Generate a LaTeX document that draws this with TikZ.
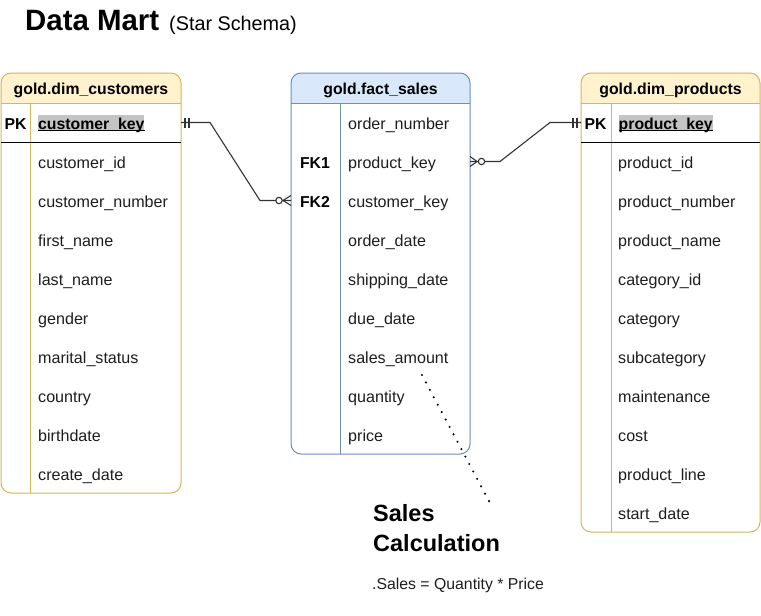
\documentclass[tikz,border=0pt]{standalone}
\usepackage{fontspec}
\setmainfont{Liberation Sans}
\definecolor{ybord}{HTML}{D6B656}
\definecolor{yfill}{HTML}{FFF2CC}
\definecolor{bbord}{HTML}{6C8EBF}
\definecolor{bfill}{HTML}{DAE8FC}
\definecolor{hl}{HTML}{C4C4C4}
\definecolor{txt}{HTML}{1E1E1E}
\definecolor{lnc}{HTML}{333333}
\tikzset{
  tbl/.style n args={2}{draw=#1, fill=white, line width=1pt, rounded corners=10pt,
    inner sep=0pt, outer sep=0pt, anchor=north west,
    path picture={\fill[#2, sharp corners] (path picture bounding box.north west) rectangle ([yshift=-30pt]path picture bounding box.north east);}},
  rowcell/.style={inner sep=0pt, outer sep=0pt, anchor=north west, minimum height=39pt},
  rowtxt/.style={anchor=base west, inner sep=0pt, text=txt, font=\fontsize{16.1}{18}\selectfont},
  keytxt/.style={anchor=base, inner sep=0pt, text=black, font=\bfseries\fontsize{15.8}{18}\selectfont},
  pktxt/.style={anchor=base west, inner sep=0pt, text=black, fill=hl, text height=14pt, text depth=2pt, font=\bfseries\fontsize{15.8}{18}\selectfont},
  hdrtxt/.style={anchor=base, inner sep=0pt, text=black, font=\bfseries\fontsize{15.8}{18}\selectfont},
  conn/.style={draw=lnc, line width=1.1pt},
  dotline/.style={draw=black, line width=2.3pt, line cap=round, dash pattern=on 0pt off 8.4pt},
}
\begin{document}
\begin{tikzpicture}[x=1pt,y=-1pt]
\fill[white] (0,0) rectangle (761,616);
\useasboundingbox (0,0) rectangle (761,616);

% title
\node[anchor=base west, inner sep=0pt, font=\bfseries\fontsize{29.4}{32}\selectfont] (title) at (25,30) {Data Mart};
\node[anchor=base west, inner sep=0pt, font=\fontsize{19.8}{24}\selectfont] (subtitle) at (169,30) {(Star Schema)};

% ---------- customers ----------
\node[tbl={ybord}{yfill}, minimum width=180pt, minimum height=420pt] (cust) at (1,73) {};
\draw[ybord, line width=1pt] ([yshift=-30pt]cust.north west) -- ([yshift=-30pt]cust.north east);
\draw[ybord, line width=1pt] (30,103) -- (30,493);
\draw[black, line width=1pt] (1,142) -- (181,142);
\node[hdrtxt] (custh) at (91,94.5) {gold.dim\_customers};
\node[rowcell, minimum width=180pt] (ckrow) at (1,103) {};
\node[keytxt] (cpk) at (15.5,129) {PK};
\node[pktxt] (ck) at (38,129) {customer\_key};
\draw[black, line width=1.3pt] ([yshift=-1.3pt]ck.base west) -- ([yshift=-1.3pt]ck.base east);
\foreach \t [count=\i] in {customer\_id, customer\_number, first\_name, last\_name, gender, marital\_status, country, birthdate, create\_date}
  \node[rowtxt] (c\i) at (38,{129+39*\i}) {\t};

% ---------- fact ----------
\node[tbl={bbord}{bfill}, minimum width=179pt, minimum height=381pt] (fact) at (291,73) {};
\draw[bbord, line width=1pt] ([yshift=-30pt]fact.north west) -- ([yshift=-30pt]fact.north east);
\draw[bbord, line width=1pt] (340,103) -- (340,454);
\node[hdrtxt] (facth) at (380.5,94.5) {gold.fact\_sales};
\node[rowcell, minimum width=179pt] (fk1row) at (291,142) {};
\node[rowcell, minimum width=179pt] (fk2row) at (291,181) {};
\node[keytxt] (fk1) at (315,168) {FK1};
\node[keytxt] (fk2) at (315,207) {FK2};
\foreach \t [count=\i] in {order\_number, product\_key, customer\_key, order\_date, shipping\_date, due\_date, sales\_amount, quantity, price}
  \node[rowtxt] (f\i) at (348,{90+39*\i}) {\t};

% ---------- products ----------
\node[tbl={ybord}{yfill}, minimum width=179pt, minimum height=459pt] (prod) at (581,73) {};
\draw[ybord, line width=1pt] ([yshift=-30pt]prod.north west) -- ([yshift=-30pt]prod.north east);
\draw[ybord, line width=1pt] (611,103) -- (611,532);
\draw[black, line width=1pt] (581,142) -- (760,142);
\node[hdrtxt] (prodh) at (670.5,94.5) {gold.dim\_products};
\node[rowcell, minimum width=179pt] (pkrow) at (581,103) {};
\node[keytxt] (ppk) at (595.5,129) {PK};
\node[pktxt] (pk) at (618.5,129) {product\_key};
\draw[black, line width=1.3pt] ([yshift=-1.3pt]pk.base west) -- ([yshift=-1.3pt]pk.base east);
\foreach \t [count=\i] in {product\_id, product\_number, product\_name, category\_id, category, subcategory, maintenance, cost, product\_line, start\_date}
  \node[rowtxt] (p\i) at (618,{129+39*\i}) {\t};

% ---------- connector customers -> fact ----------
\draw[conn] (ckrow.east) -- ++(29,0) -- ([xshift=-31pt]fk2row.west) -- (fk2row.west);
\draw[conn] ([xshift=4pt]ckrow.east) ++(0,-5) -- ++(0,10);
\draw[conn] ([xshift=8pt]ckrow.east) ++(0,-5) -- ++(0,10);
\draw[conn] ([yshift=5pt]fk2row.west) -- ([xshift=-8pt]fk2row.west) -- ([yshift=-5pt]fk2row.west);
\draw[conn, fill=white] ([xshift=-12pt]fk2row.west) circle (3.2pt);

% ---------- connector fact -> products ----------
\draw[conn] (fk1row.east) -- ++(30,0) -- ([xshift=-31pt]pkrow.west) -- (pkrow.west);
\draw[conn] ([xshift=-4pt]pkrow.west) ++(0,-5) -- ++(0,10);
\draw[conn] ([xshift=-8pt]pkrow.west) ++(0,-5) -- ++(0,10);
\draw[conn] ([yshift=5pt]fk1row.east) -- ([xshift=7pt]fk1row.east) -- ([yshift=-5pt]fk1row.east);
\draw[conn, fill=white] ([xshift=11.5pt]fk1row.east) circle (3.2pt);

% ---------- annotation ----------
\coordinate (d1) at (422,375);
\coordinate (d2) at (490,503);
\draw[dotline] (d1) -- (d2);
\node[anchor=base west, inner sep=0pt, font=\bfseries\fontsize{23.5}{28}\selectfont] (sales1) at (373,521) {Sales};
\node[anchor=base west, inner sep=0pt, font=\bfseries\fontsize{23.5}{28}\selectfont] (sales2) at (373,551) {Calculation};
\node[anchor=base west, inner sep=0pt, text=txt, font=\fontsize{15.8}{18}\selectfont] (formula) at (372,589) {.Sales = Quantity * Price};
\end{tikzpicture}
\end{document}
